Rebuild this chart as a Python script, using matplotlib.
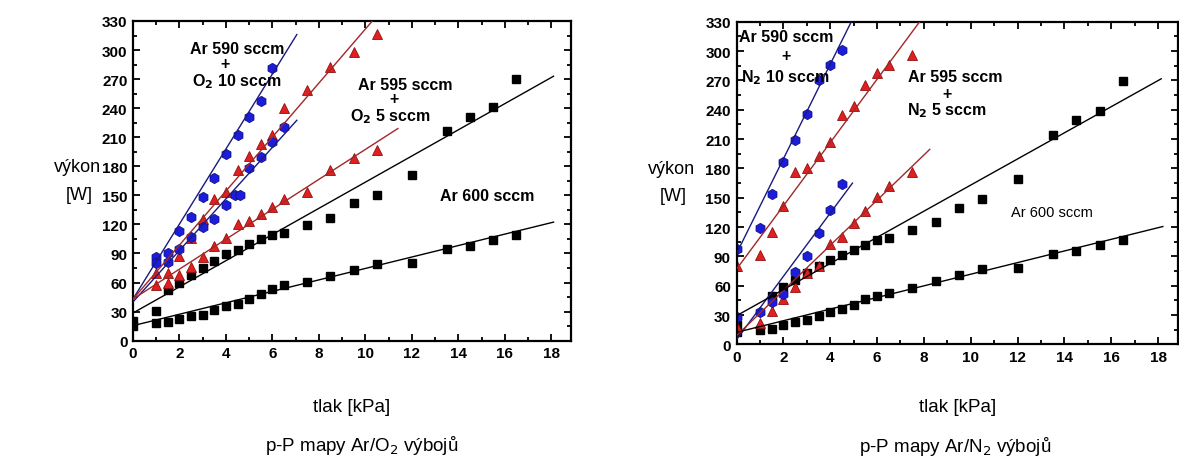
import matplotlib
matplotlib.use("Agg")
import matplotlib.pyplot as plt
from matplotlib.ticker import MultipleLocator

plt.rcParams['font.family'] = ['Liberation Sans', 'DejaVu Sans']

# ---------------- data: Ar/O2 (left) ----------------
o2_blue_hi_x = [1, 1.5, 2, 2.5, 3, 3.5, 4, 4.5, 5, 5.5, 6]
o2_blue_hi_y = [86, 91, 113, 128, 148, 168, 193, 212, 231, 247, 281]
o2_blue_lo_x = [1, 1.5, 2, 2.5, 3, 3.5, 4, 4.4, 4.6, 5, 5.5, 6, 6.5]
o2_blue_lo_y = [80, 81, 95, 107, 117, 126, 140, 150, 150, 178, 190, 205, 221]
o2_red_hi_x = [1, 1.5, 2, 2.5, 3, 3.5, 4, 4.5, 5, 5.5, 6, 6.5, 7.5, 8.5, 9.5, 10.5]
o2_red_hi_y = [70, 70, 87, 106, 126, 146, 153, 176, 191, 203, 212, 240, 259, 283, 298, 317]
o2_red_lo_x = [1, 1.5, 2, 2.5, 3, 3.5, 4, 4.5, 5, 5.5, 6, 6.5, 7.5, 8.5, 9.5, 10.5]
o2_red_lo_y = [57, 60, 68, 76, 86, 98, 106, 120, 124, 131, 138, 146, 153, 176, 189, 197]
o2_black_hi_x = [0, 1, 1.5, 2, 2.5, 3, 3.5, 4, 4.5, 5, 5.5, 6, 6.5, 7.5, 8.5, 9.5, 10.5, 12, 13.5, 14.5, 15.5, 16.5]
o2_black_hi_y = [20, 31, 52, 60, 68, 75, 82, 89, 94, 100, 105, 109, 111, 119, 127, 142, 150, 171, 216, 231, 241, 270]
o2_black_lo_x = [0, 1, 1.5, 2, 2.5, 3, 3.5, 4, 4.5, 5, 5.5, 6, 6.5, 7.5, 8.5, 9.5, 10.5, 12, 13.5, 14.5, 15.5, 16.5]
o2_black_lo_y = [15, 18, 19, 22, 25, 27, 32, 36, 38, 43, 48, 53, 57, 61, 67, 73, 79, 80, 95, 98, 104, 109]

# fitted lines (end points)
o2_fit_blue_hi = ([0, 7.05], [43, 316])
o2_fit_blue_lo = ([0, 7.05], [40, 227.5])
o2_fit_red_hi = ([0, 10.3], [43, 330])
o2_fit_red_lo = ([0, 11.4], [43, 219])
o2_fit_black_hi = ([0, 18.1], [28.6, 273])
o2_fit_black_lo = ([0, 18.1], [15.5, 122.4])

# ---------------- data: Ar/N2 (right) ----------------
n2_blue_hi_x = [0, 1, 1.5, 2, 2.5, 3, 3.5, 4, 4.5]
n2_blue_hi_y = [98, 119, 154, 187, 209, 236, 270, 286, 301]
n2_blue_lo_x = [0, 1, 1.5, 2, 2.5, 3, 3.5, 4, 4.5]
n2_blue_lo_y = [28, 33, 43, 52, 74, 90, 114, 138, 164]
n2_red_hi_x = [0, 1, 1.5, 2, 2.5, 3, 3.5, 4, 4.5, 5, 5.5, 6, 6.5, 7.5]
n2_red_hi_y = [80, 91, 115, 142, 176, 180, 193, 207, 235, 244, 265, 278, 286, 296]
n2_red_lo_x = [0, 1, 1.5, 2, 2.5, 3, 3.5, 4, 4.5, 5, 5.5, 6, 6.5, 7.5]
n2_red_lo_y = [18, 22, 34, 46, 59, 73, 80, 103, 110, 124, 136, 151, 162, 176]
n2_black_hi_x = [0, 1.5, 2, 2.5, 3, 3.5, 4, 4.5, 5, 5.5, 6, 6.5, 7.5, 8.5, 9.5, 10.5, 12, 13.5, 14.5, 15.5, 16.5]
n2_black_hi_y = [20, 50, 59, 66, 73, 80, 86, 91, 97, 102, 107, 109, 117, 125, 140, 149, 169, 214, 229, 239, 269]
n2_black_lo_x = [0, 1, 1.5, 2, 2.5, 3, 3.5, 4, 4.5, 5, 5.5, 6, 6.5, 7.5, 8.5, 9.5, 10.5, 12, 13.5, 14.5, 15.5, 16.5]
n2_black_lo_y = [13, 15, 16, 20, 23, 25, 29, 33, 36, 40, 46, 50, 53, 58, 65, 71, 77, 78, 93, 96, 102, 107]

n2_fit_blue_hi = ([0, 4.9], [93, 330])
n2_fit_blue_lo = ([0, 4.95], [5, 165])
n2_fit_red_hi = ([0, 7.82], [77, 330])
n2_fit_red_lo = ([0, 8.25], [9, 199.5])
n2_fit_black_hi = ([0, 18.13], [29.4, 271.6])
n2_fit_black_lo = ([0, 18.2], [12.4, 120.6])

x_ticks = [0, 2, 4, 6, 8, 10, 12, 14, 16, 18]
y_ticks = [0, 30, 60, 90, 120, 150, 180, 210, 240, 270, 300, 330]

BLUE = '#1c1cdc'
RED = '#e02020'
BLUE_LINE = '#1a1a80'
RED_LINE = '#a02828'

W, H = 1179, 464
fig = plt.figure(figsize=(W / 100, H / 100), dpi=100)
axL = fig.add_axes([0.1128, 0.2636, 0.3715, 0.689])
axR = fig.add_axes([0.6247, 0.2554, 0.3745, 0.6957])


def draw(ax, d, fits):
    for (fx, fy), c in zip(fits, [BLUE_LINE, BLUE_LINE, RED_LINE, RED_LINE, 'black', 'black']):
        ax.plot(fx, fy, color=c, lw=1.0, zorder=3)
    bx1, by1, bx2, by2, rx1, ry1, rx2, ry2, kx1, ky1, kx2, ky2 = d
    ax.plot(kx1, ky1, 's', color='black', ms=6, zorder=2)
    ax.plot(kx2, ky2, 's', color='black', ms=6, zorder=2)
    ax.plot(rx1, ry1, '^', color=RED, mec='#901010', mew=0.6, ms=7.5, zorder=2)
    ax.plot(rx2, ry2, '^', color=RED, mec='#901010', mew=0.6, ms=7.5, zorder=2)
    ax.plot(bx1, by1, 'h', color=BLUE, mec='#101070', mew=0.5, ms=7.5, zorder=2)
    ax.plot(bx2, by2, 'h', color=BLUE, mec='#101070', mew=0.5, ms=7.5, zorder=2)

    ax.set_xlim(0, 18.85)
    ax.set_ylim(0, 330)
    ax.set_xticks(x_ticks)
    ax.set_yticks(y_ticks)
    ax.xaxis.set_minor_locator(MultipleLocator(1))
    ax.yaxis.set_minor_locator(MultipleLocator(15))
    ax.tick_params(which='both', direction='in', top=True, right=True, width=1.3)
    ax.tick_params(which='major', length=5, labelsize=11, pad=4)
    ax.tick_params(which='minor', length=3)
    for lab in ax.get_xticklabels() + ax.get_yticklabels():
        lab.set_fontweight('bold')
    for s in ax.spines.values():
        s.set_linewidth(1.6)


draw(axL, [o2_blue_hi_x, o2_blue_hi_y, o2_blue_lo_x, o2_blue_lo_y,
           o2_red_hi_x, o2_red_hi_y, o2_red_lo_x, o2_red_lo_y,
           o2_black_hi_x, o2_black_hi_y, o2_black_lo_x, o2_black_lo_y],
     [o2_fit_blue_hi, o2_fit_blue_lo, o2_fit_red_hi, o2_fit_red_lo, o2_fit_black_hi, o2_fit_black_lo])
draw(axR, [n2_blue_hi_x, n2_blue_hi_y, n2_blue_lo_x, n2_blue_lo_y,
           n2_red_hi_x, n2_red_hi_y, n2_red_lo_x, n2_red_lo_y,
           n2_black_hi_x, n2_black_hi_y, n2_black_lo_x, n2_black_lo_y],
     [n2_fit_blue_hi, n2_fit_blue_lo, n2_fit_red_hi, n2_fit_red_lo, n2_fit_black_hi, n2_fit_black_lo])


def ftext(x, y, s, **kw):
    fig.text(x / W, 1 - y / H, s, ha='center', va='center', **kw)


B = dict(fontsize=11.5, fontweight='bold')
# annotations left
ftext(237, 49, 'Ar 590 sccm', **B)
ftext(225, 65, '+', **B)
ftext(237, 82, 'O$_\\mathbf{2}$ 10 sccm', **B)
ftext(405, 85, 'Ar 595 sccm', **B)
ftext(394, 100, '+', **B)
ftext(390, 117, 'O$_\\mathbf{2}$ 5 sccm', **B)
ftext(487, 197, 'Ar 600 sccm', **B)

# annotations right
ftext(786, 38, 'Ar 590 sccm', **B)
ftext(786, 56, '+', **B)
ftext(785, 78, 'N$_\\mathbf{2}$ 10 sccm', **B)
ftext(955, 78, 'Ar 595 sccm', **B)
ftext(947, 95, '+', **B)
ftext(947, 111, 'N$_\\mathbf{2}$ 5 sccm', **B)
ftext(1052, 213, 'Ar 600 sccm', fontsize=10.5)

# y-labels
ftext(78, 168, 'výkon', fontsize=13)
ftext(79, 195, '[W]', fontsize=13)
ftext(672, 170, 'výkon', fontsize=13)
ftext(673, 197, '[W]', fontsize=13)

# x-labels
ftext(352, 408, 'tlak [kPa]', fontsize=13.5)
ftext(958, 408, 'tlak [kPa]', fontsize=13.5)

# titles below
ftext(362, 446, 'p-P mapy Ar/O$_2$ výbojů', fontsize=13.5)
ftext(955, 447, 'p-P mapy Ar/N$_2$ výbojů', fontsize=13.5)

fig.savefig('out.png', dpi=100)
